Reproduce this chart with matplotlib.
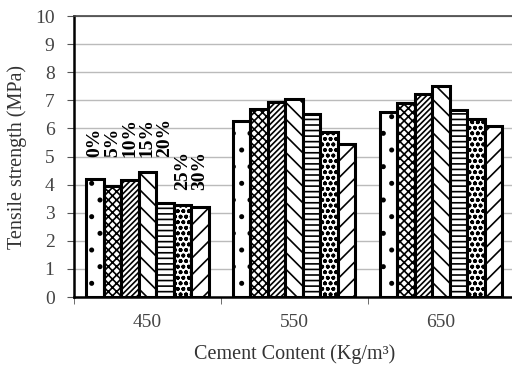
import numpy as np
import matplotlib
matplotlib.use('Agg')
import matplotlib.pyplot as plt

plt.rcParams['font.family'] = ['Liberation Serif', 'DejaVu Serif']
plt.rcParams['hatch.linewidth'] = 1.2

# 数据
cement = ['450', '550', '650']
replacement = ['0%', '5%', '10%', '15%', '20%', '25%', '30%']
strength_450 = [4.2, 3.95, 4.15, 4.45, 3.35, 3.28, 3.2]
strength_550 = [6.25, 6.7, 6.95, 7.05, 6.5, 5.88, 5.45]
strength_650 = [6.58, 6.9, 7.22, 7.5, 6.65, 6.32, 6.1]
label_height = [5.0, 5.0, 5.0, 5.0, 5.0, 3.8, 3.8]

hatches = ['.', 'xxxx', '//////', '\\\\', '---', 'ooo', '//']

fig = plt.figure(figsize=(5.12, 3.65), dpi=100)
ax = fig.add_axes([0.1445, 0.1863, 0.86, 0.7697])

data = np.array([strength_450, strength_550, strength_650])
n = len(replacement)
w = 0.119
x0 = np.arange(len(cement)) + 0.5
for i in range(n):
    xs = x0 + (i - (n - 1) / 2) * w
    ax.bar(xs, data[:, i], width=w, color='white', edgecolor='black',
           linewidth=2.2, hatch=hatches[i], zorder=3)
    # 百分比标签只标在第一组上方
    ax.text(xs[0], label_height[i], replacement[i], rotation=90,
            ha='center', va='bottom', fontsize=14, fontweight='bold', zorder=4)

ax.set_xlim(0, 3)
ax.set_ylim(0, 10)
ax.set_yticks(range(0, 11))
ax.set_xticks(x0)
ax.set_xticklabels(cement)
ax.set_xticks([0, 1, 2, 3], minor=True)
ax.tick_params(axis='x', which='major', length=0, pad=12, labelsize=14, labelcolor='#444444')
ax.tick_params(axis='x', which='minor', length=5, direction='out', color='#555555')
ax.tick_params(axis='y', length=5, direction='out', pad=9, labelsize=14, labelcolor='#444444', color='#555555')
ax.yaxis.grid(True, color='#bbbbbb', linewidth=1, zorder=0)
ax.set_axisbelow(True)

for s in ['left', 'bottom']:
    ax.spines[s].set_linewidth(1.8)
    ax.spines[s].set_color('black')
ax.spines['top'].set_color('#444444')
ax.spines['top'].set_linewidth(1.2)
ax.spines['right'].set_visible(False)

ax.set_xlabel('Cement Content (Kg/m³)', fontsize=14.5, color='#333333', labelpad=10)
ax.set_ylabel('Tensile strength (MPa)', fontsize=14.5, color='#333333', labelpad=6)

fig.savefig('out.png', dpi=100)
